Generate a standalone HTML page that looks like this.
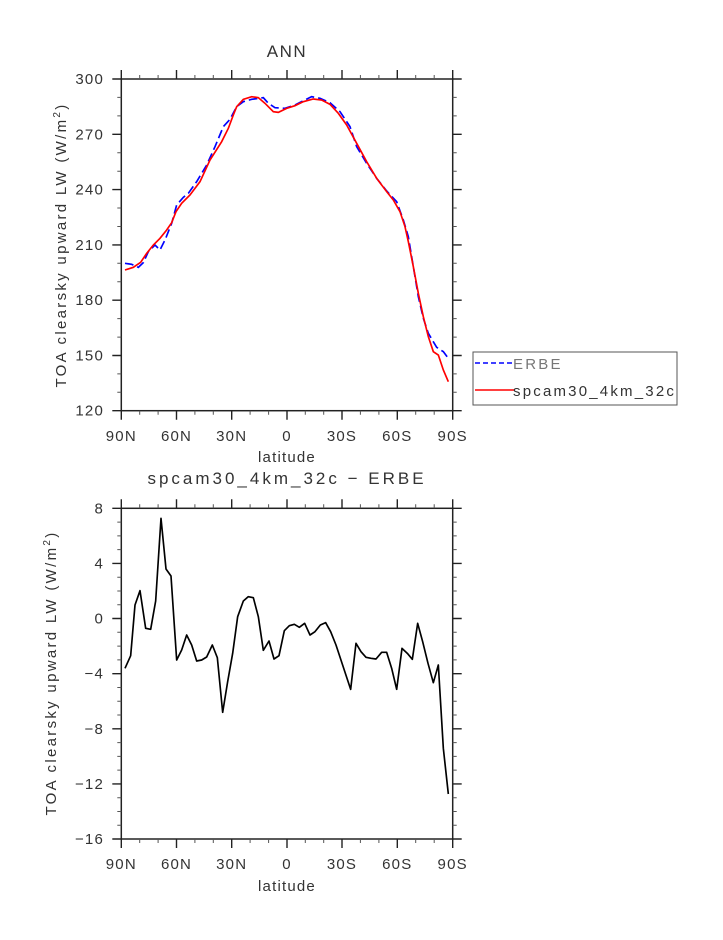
<!DOCTYPE html>
<html><head><meta charset="utf-8"><style>
html,body{margin:0;padding:0;background:#fff;}
text{font-family:"Liberation Sans","DejaVu Sans",sans-serif;fill:#333;letter-spacing:1.2px;}
</style></head><body>
<svg width="723" height="935" viewBox="0 0 723 935" xmlns="http://www.w3.org/2000/svg">
<rect width="723" height="935" fill="#fff"/>
<!-- TOP PLOT -->
<text x="287" y="57" font-size="17" text-anchor="middle" style="letter-spacing:1.5px">ANN</text>
<rect x="121.3" y="79" width="331.4" height="331.7" fill="none" stroke="#222" stroke-width="1.5"/>
<g stroke="#222" stroke-width="1.4">
<path d="M121.3 79v-9M176.5 79v-9M231.7 79v-9M287 79v-9M342 79v-9M397.3 79v-9M452.7 79v-9
M121.3 410.7v9M176.5 410.7v9M231.7 410.7v9M287 410.7v9M342 410.7v9M397.3 410.7v9M452.7 410.7v9
M121.3 79h-9M121.3 134.3h-9M121.3 189.6h-9M121.3 244.9h-9M121.3 300.2h-9M121.3 355.5h-9M121.3 410.7h-9
M452.7 79h9M452.7 134.3h9M452.7 189.6h9M452.7 244.9h9M452.7 300.2h9M452.7 355.5h9M452.7 410.7h9"/>
</g>
<g stroke="#555" stroke-width="1">
<path d="M139.7 79v-4M158.1 79v-4M194.9 79v-4M213.3 79v-4M250.1 79v-4M268.6 79v-4M305.3 79v-4M323.7 79v-4M360.4 79v-4M378.9 79v-4M415.7 79v-4M434.2 79v-4
M139.7 410.7v4M158.1 410.7v4M194.9 410.7v4M213.3 410.7v4M250.1 410.7v4M268.6 410.7v4M305.3 410.7v4M323.7 410.7v4M360.4 410.7v4M378.9 410.7v4M415.7 410.7v4M434.2 410.7v4
M121.3 97.4h-4M121.3 115.9h-4M121.3 152.7h-4M121.3 171.2h-4M121.3 208h-4M121.3 226.5h-4M121.3 263.3h-4M121.3 281.8h-4M121.3 318.6h-4M121.3 337.1h-4M121.3 373.9h-4M121.3 392.3h-4
M452.7 97.4h4M452.7 115.9h4M452.7 152.7h4M452.7 171.2h4M452.7 208h4M452.7 226.5h4M452.7 263.3h4M452.7 281.8h4M452.7 318.6h4M452.7 337.1h4M452.7 373.9h4M452.7 392.3h4"/>
</g>
<g font-size="15" text-anchor="end">
<text x="104" y="84">300</text><text x="104" y="139.3">270</text><text x="104" y="194.6">240</text><text x="104" y="249.9">210</text><text x="104" y="305.2">180</text><text x="104" y="360.5">150</text><text x="104" y="415.7">120</text>
</g>
<g font-size="15" text-anchor="middle">
<text x="121.3" y="441">90N</text><text x="176.5" y="441">60N</text><text x="231.7" y="441">30N</text><text x="287" y="441">0</text><text x="342" y="441">30S</text><text x="397.3" y="441">60S</text><text x="452.7" y="441">90S</text>
<text x="287" y="462">latitude</text>
</g>
<text transform="translate(66,245) rotate(-90)" font-size="15" text-anchor="middle" style="letter-spacing:2.3px">TOA clearsky upward LW (W/m<tspan dy="-6" font-size="10">2</tspan><tspan dy="6">)</tspan></text>
<g transform="translate(100,60) scale(0.33333)" fill="none" stroke-width="5">
<path stroke="#0000ff" stroke-dasharray="26,12" d="M75,610 L95,613 L115,622 L130,608 L145,575 L165,555 L180,570 L195,540 L215,490 L230,435 L250,412 L265,400 L290,365 L320,315 L345,260 L370,200 L390,178 L410,140 L430,125 L455,118 L490,113 L505,130 L525,143 L555,145 L585,135 L610,122 L635,110 L660,115 L690,128 L720,155 L750,200 L770,260 L800,310 L830,355 L860,393 L890,425 L910,480 L925,530 L940,620 L955,710 L970,775 L985,820 L1010,862 L1030,875 L1045,895"/>
<path stroke="#ff0000" d="M75,630 L100,622 L122,607 L140,580 L160,555 L180,535 L200,510 L215,488 L228,455 L245,430 L270,405 L300,365 L330,300 L365,245 L385,205 L400,165 L410,140 L430,118 L455,110 L475,113 L495,130 L520,155 L535,157 L560,145 L585,137 L610,125 L640,117 L665,120 L690,133 L715,160 L740,195 L770,250 L800,305 L830,355 L860,395 L880,420 L900,455 L915,500 L925,545 L940,620 L955,700 L970,770 L985,830 L1000,875 L1015,885 L1030,930 L1045,965"/>
</g>
<!-- legend -->
<rect x="473" y="352" width="204" height="53" fill="#fff" stroke="#555" stroke-width="1"/>
<path d="M475 363H514" stroke="#0000ff" stroke-width="1.5" stroke-dasharray="5,3"/>
<path d="M475 390H514" stroke="#ff0000" stroke-width="1.5"/>
<text x="513" y="369" font-size="15" style="fill:#777;letter-spacing:2.2px">ERBE</text>
<text x="513" y="396" font-size="15" style="letter-spacing:2.2px">spcam30_4km_32c</text>

<!-- BOTTOM PLOT -->
<text x="287" y="484" font-size="17" text-anchor="middle" style="letter-spacing:3px">spcam30_4km_32c − ERBE</text>
<rect x="121.3" y="508.3" width="331.4" height="330.7" fill="none" stroke="#222" stroke-width="1.5"/>
<g stroke="#222" stroke-width="1.4">
<path d="M121.3 508.3v-9M176.5 508.3v-9M231.7 508.3v-9M287 508.3v-9M342 508.3v-9M397.3 508.3v-9M452.7 508.3v-9
M121.3 839v9M176.5 839v9M231.7 839v9M287 839v9M342 839v9M397.3 839v9M452.7 839v9
M121.3 508.3h-9M121.3 563.4h-9M121.3 618.5h-9M121.3 673.7h-9M121.3 728.8h-9M121.3 783.9h-9M121.3 839h-9
M452.7 508.3h9M452.7 563.4h9M452.7 618.5h9M452.7 673.7h9M452.7 728.8h9M452.7 783.9h9M452.7 839h9"/>
</g>
<g stroke="#555" stroke-width="1">
<path d="M139.7 508.3v-4M158.1 508.3v-4M194.9 508.3v-4M213.3 508.3v-4M250.1 508.3v-4M268.6 508.3v-4M305.3 508.3v-4M323.7 508.3v-4M360.4 508.3v-4M378.9 508.3v-4M415.7 508.3v-4M434.2 508.3v-4
M139.7 839v4M158.1 839v4M194.9 839v4M213.3 839v4M250.1 839v4M268.6 839v4M305.3 839v4M323.7 839v4M360.4 839v4M378.9 839v4M415.7 839v4M434.2 839v4
M121.3 522.1h-4M121.3 535.9h-4M121.3 549.6h-4M121.3 577.2h-4M121.3 591h-4M121.3 604.7h-4M121.3 632.3h-4M121.3 646.1h-4M121.3 659.9h-4M121.3 687.5h-4M121.3 701.2h-4M121.3 715h-4M121.3 742.6h-4M121.3 756.4h-4M121.3 770.1h-4M121.3 797.7h-4M121.3 811.5h-4M121.3 825.2h-4
M452.7 522.1h4M452.7 535.9h4M452.7 549.6h4M452.7 577.2h4M452.7 591h4M452.7 604.7h4M452.7 632.3h4M452.7 646.1h4M452.7 659.9h4M452.7 687.5h4M452.7 701.2h4M452.7 715h4M452.7 742.6h4M452.7 756.4h4M452.7 770.1h4M452.7 797.7h4M452.7 811.5h4M452.7 825.2h4"/>
</g>
<g font-size="15" text-anchor="end">
<text x="104" y="513.3">8</text><text x="104" y="568.4">4</text><text x="104" y="623.5">0</text><text x="104" y="678.7">−4</text><text x="104" y="733.8">−8</text><text x="104" y="788.9">−12</text><text x="104" y="844">−16</text>
</g>
<g font-size="15" text-anchor="middle">
<text x="121.3" y="869">90N</text><text x="176.5" y="869">60N</text><text x="231.7" y="869">30N</text><text x="287" y="869">0</text><text x="342" y="869">30S</text><text x="397.3" y="869">60S</text><text x="452.7" y="869">90S</text>
<text x="287" y="891">latitude</text>
</g>
<text transform="translate(56,673) rotate(-90)" font-size="15" text-anchor="middle" style="letter-spacing:2.3px">TOA clearsky upward LW (W/m<tspan dy="-6" font-size="10">2</tspan><tspan dy="6">)</tspan></text>
<g transform="translate(100,495) scale(0.33333)" fill="none" stroke="#000" stroke-width="5" stroke-linejoin="round">
<path d="M75,520 L92,482 L105,330 L120,287 L137,400 L152,403 L167,318 L183,70 L198,222 L213,243 L230,495 L245,465 L260,420 L275,450 L290,498 L305,495 L320,486 L337,450 L352,488 L368,652 L383,560 L398,475 L413,365 L430,318 L445,305 L460,308 L475,365 L490,466 L507,438 L522,492 L537,482 L553,407 L568,392 L583,388 L598,397 L614,385 L630,420 L645,410 L661,390 L677,383 L692,410 L708,450 L752,583 L768,445 L783,470 L798,487 L813,490 L828,492 L845,472 L860,472 L875,520 L890,583 L906,460 L922,475 L937,493 L953,385 L968,440 L984,505 L1000,563 L1015,510 L1030,760 L1045,897"/>
</g>
</svg>
</body></html>
